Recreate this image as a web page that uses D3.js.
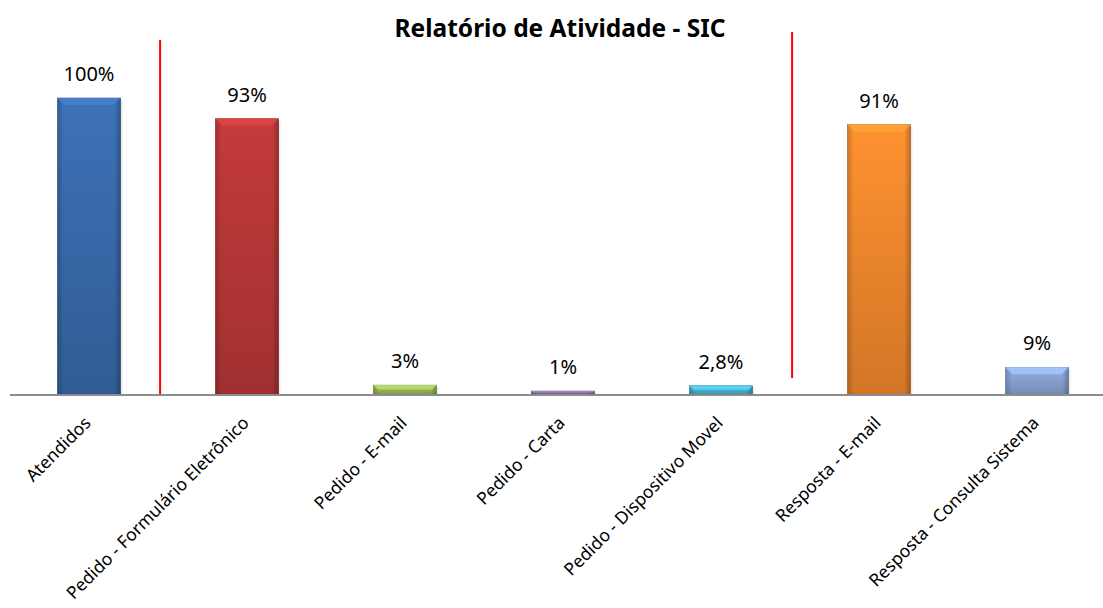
<!DOCTYPE html>
<html>
<head>
<meta charset="utf-8">
<script src="https://cdn.jsdelivr.net/npm/d3@7"></script>
<style>
  body { margin: 0; background: #fff; }
  text { font-family: "Noto Sans", "Open Sans", sans-serif; fill: #000; }
</style>
</head>
<body>
<script>
// Data
var categories = ["Atendidos", "Pedido - Formulário Eletrônico", "Pedido - E-mail", "Pedido - Carta",
  "Pedido - Dispositivo Movel", "Resposta - E-mail", "Resposta - Consulta Sistema"];
var values = [100, 93, 3, 1, 2.8, 91, 9];
var valueLabels = ["100%", "93%", "3%", "1%", "2,8%", "91%", "9%"];
var barColors = ["#3a6cae", "#bc3838", "#9bbb59", "#8a74a8", "#4bb4d4", "#f68a2e", "#8aa6d6"];

// separator lines: after which category, top and bottom in value units
var separatorAfter = ["Atendidos", "Pedido - Dispositivo Movel"];
var separatorTop = [119.6, 122.3];
var separatorBottom = [0, 5.4];

var title = "Relatório de Atividade - SIC";

// Define SVG area dimensions
var svgWidth = 1103;
var svgHeight = 608;

var svg = d3.select("body")
  .append("svg")
  .attr("width", svgWidth)
  .attr("height", svgHeight);

var axisY = 394;

// Scales
var xScale = d3.scaleBand()
  .domain(categories)
  .range([10, 1116])
  .paddingInner(0.6)
  .paddingOuter(0.3);

var yScale = d3.scaleLinear()
  .domain([0, 100])
  .range([axisY, 98]);

var defs = svg.append("defs");

categories.forEach(function(c, i) {
  var base = d3.color(barColors[i]);
  var grad = defs.append("linearGradient")
    .attr("id", "grad" + i)
    .attr("x1", 0).attr("y1", 0).attr("x2", 0).attr("y2", 1);
  grad.append("stop").attr("offset", "0%").attr("stop-color", base.brighter(0.15));
  grad.append("stop").attr("offset", "100%").attr("stop-color", base.darker(0.45));

  var side = defs.append("linearGradient")
    .attr("id", "side" + i)
    .attr("x1", 0).attr("y1", 0).attr("x2", 1).attr("y2", 0);
  side.append("stop").attr("offset", "0%").attr("stop-color", "#000").attr("stop-opacity", 0.18);
  side.append("stop").attr("offset", "10%").attr("stop-color", "#000").attr("stop-opacity", 0);
  side.append("stop").attr("offset", "90%").attr("stop-color", "#000").attr("stop-opacity", 0);
  side.append("stop").attr("offset", "100%").attr("stop-color", "#000").attr("stop-opacity", 0.25);
});

var chartGroup = svg.append("g");

// bar shadows
chartGroup.selectAll(".shadow")
  .data(values)
  .enter()
  .append("rect")
  .attr("x", function(d, i) { return xScale(categories[i]) + 2; })
  .attr("y", function(d) { return yScale(d) + 2; })
  .attr("width", xScale.bandwidth())
  .attr("height", function(d) { return axisY - yScale(d); })
  .attr("fill", "#000")
  .attr("opacity", 0.08);

// bars
chartGroup.selectAll(".bar")
  .data(values)
  .enter()
  .append("rect")
  .attr("class", "bar")
  .attr("x", function(d, i) { return xScale(categories[i]); })
  .attr("y", function(d) { return yScale(d); })
  .attr("width", xScale.bandwidth())
  .attr("height", function(d) { return axisY - yScale(d); })
  .attr("fill", function(d, i) { return "url(#grad" + i + ")"; })
  .attr("stroke", function(d, i) { return d3.color(barColors[i]).darker(0.8); })
  .attr("stroke-width", 0.6);

chartGroup.selectAll(".barside")
  .data(values)
  .enter()
  .append("rect")
  .attr("x", function(d, i) { return xScale(categories[i]); })
  .attr("y", function(d) { return yScale(d); })
  .attr("width", xScale.bandwidth())
  .attr("height", function(d) { return axisY - yScale(d); })
  .attr("fill", function(d, i) { return "url(#side" + i + ")"; });

// top bevel
chartGroup.selectAll(".bevel")
  .data(values)
  .enter()
  .append("path")
  .attr("d", function(d, i) {
    var x0 = xScale(categories[i]);
    var x1 = x0 + xScale.bandwidth();
    var y0 = yScale(d);
    var h = Math.min(7, (axisY - y0) / 2);
    return "M" + x0 + "," + y0 + "L" + x1 + "," + y0 +
      "L" + (x1 - h) + "," + (y0 + h) + "L" + (x0 + h) + "," + (y0 + h) + "Z";
  })
  .attr("fill", function(d, i) { return d3.color(barColors[i]).brighter(0.5); })
  .attr("opacity", 0.85);

// x axis line
chartGroup.append("line")
  .attr("x1", 10)
  .attr("x2", svgWidth)
  .attr("y1", axisY + 1)
  .attr("y2", axisY + 1)
  .attr("stroke", "#8c8c8c")
  .attr("stroke-width", 2);

// value labels
chartGroup.selectAll(".valueLabel")
  .data(values)
  .enter()
  .append("text")
  .attr("x", function(d, i) { return xScale(categories[i]) + xScale.bandwidth() / 2; })
  .attr("y", function(d) { return yScale(d) - 17; })
  .attr("text-anchor", "middle")
  .style("font-size", "20px")
  .text(function(d, i) { return valueLabels[i]; });

// category labels
chartGroup.selectAll(".catLabel")
  .data(categories)
  .enter()
  .append("text")
  .attr("transform", function(d) {
    var cx = xScale(d) + xScale.bandwidth() / 2 + 3;
    return "translate(" + cx + "," + (axisY + 30) + ") rotate(-45)";
  })
  .attr("text-anchor", "end")
  .style("font-size", "17.5px")
  .text(function(d) { return d; });

// red separator lines
separatorAfter.forEach(function(c, i) {
  var sx = xScale(c) + xScale.step() * 0.65;
  chartGroup.append("line")
    .attr("x1", sx).attr("x2", sx)
    .attr("y1", yScale(separatorTop[i]))
    .attr("y2", yScale(separatorBottom[i]))
    .attr("stroke", "#ff0000")
    .attr("stroke-width", 2);
});

// title
svg.append("text")
  .attr("x", 560)
  .attr("y", 37)
  .attr("text-anchor", "middle")
  .style("font-size", "24.5px")
  .style("font-weight", "bold")
  .text(title);
</script>
</body>
</html>
